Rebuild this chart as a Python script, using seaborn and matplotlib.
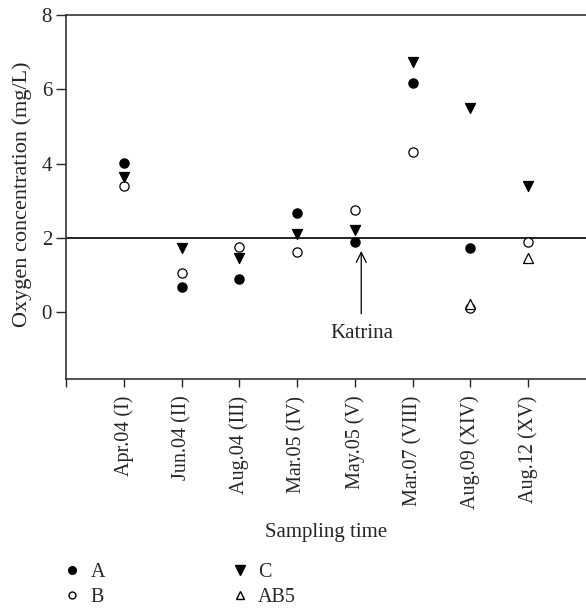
import matplotlib
matplotlib.use("Agg")
import matplotlib.pyplot as plt
from matplotlib.lines import Line2D
import seaborn as sns
import numpy as np

sns.set_style("ticks")
plt.rcParams['font.family'] = ['Liberation Serif', 'DejaVu Serif']

dates = ["Apr.04 (I)", "Jun.04 (II)", "Aug.04 (III)", "Mar.05 (IV)", "May.05 (V)",
         "Mar.07 (VIII)", "Aug.09 (XIV)", "Aug.12 (XV)"]
site_a = [4.02, 0.68, 0.90, 2.68, 1.90, 6.18, 1.72, np.nan]
site_b = [3.40, 1.05, 1.75, 1.63, 2.75, 4.30, 0.12, 1.90]
site_c = [3.65, 1.72, 1.47, 2.10, 2.20, 6.74, 5.50, 3.40]
site_ab5 = [np.nan, np.nan, np.nan, np.nan, np.nan, np.nan, 0.22, 1.45]
threshold = 2.0

pos = np.arange(1, len(dates) + 1)

fig = plt.figure(figsize=(5.86, 6.10), dpi=100)
ax = fig.add_axes([0.1126, 0.3787, 0.8874, 0.5967])

ax.axhline(threshold, color="black", linewidth=1.2, zorder=1)

styles = [
    (site_a, "o", "black", "black", 44),
    (site_b, "o", "white", "black", 44),
    (site_c, "v", "black", "black", 52),
    (site_ab5, "^", "white", "black", 52),
]
for vals, mk, fc, ec, sz in styles:
    sns.scatterplot(x=pos, y=vals, marker=mk, color=fc, edgecolor=ec,
                    linewidth=0.9, s=sz, ax=ax, zorder=3)

ax.annotate("", xy=(5.11, 1.72), xytext=(5.11, -0.12),
            arrowprops=dict(arrowstyle="->", color="black", lw=0.9,
                            mutation_scale=18))
ax.text(5.12, -0.57, "Katrina", ha="center", va="center", fontsize=15)

ax.set_xlim(0, 9)
ax.set_ylim(-1.8, 8)
ax.set_yticks([0, 2, 4, 6, 8])
ax.set_xticks(np.arange(0, 9))
ax.set_xticklabels([""] + dates, rotation=90, fontsize=14.5)
ax.tick_params(axis="y", labelsize=15, length=7, width=1, pad=3)
ax.tick_params(axis="x", length=6, width=1, pad=6)
ax.set_xlabel("Sampling time", fontsize=15)
ax.xaxis.set_label_coords(0.5, -0.395)
fig.text(22 / 586, 1 - 194 / 610, "Oxygen concentration (mg/L)",
         rotation=90, ha="center", va="center", fontsize=16)

for side in ["left", "bottom", "top"]:
    ax.spines[side].set_linewidth(1.2)
    ax.spines[side].set_color("#333333")
ax.spines["right"].set_visible(False)

handles = [
    Line2D([], [], marker="o", linestyle="", color="black", markersize=5.5),
    Line2D([], [], marker="o", linestyle="", markerfacecolor="white",
           markeredgecolor="black", markersize=5),
    Line2D([], [], marker="v", linestyle="", color="black", markersize=6.5),
    Line2D([], [], marker="^", linestyle="", markerfacecolor="white",
           markeredgecolor="black", markersize=6),
]
labels = ["A", "B", "C", "AB5"]
fig.legend(handles, labels, loc="center left", bbox_to_anchor=(0.106, 1 - 585 / 610),
           ncol=2, frameon=False, fontsize=14.5, columnspacing=6.2,
           handletextpad=0.4, labelspacing=0.25, handlelength=1.0,
           borderpad=0, borderaxespad=0)

fig.savefig("out.png", dpi=100)
